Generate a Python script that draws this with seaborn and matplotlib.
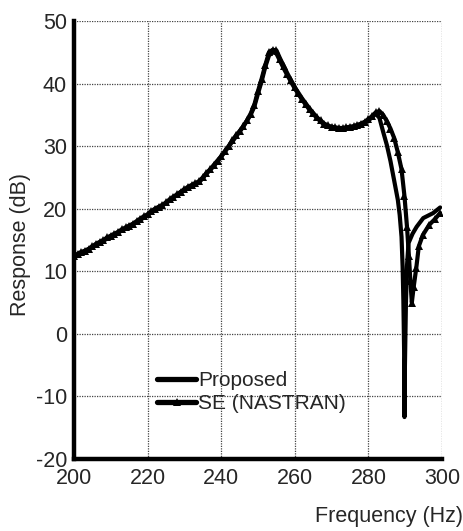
import matplotlib
matplotlib.use("Agg")
import matplotlib.pyplot as plt
import seaborn as sns
import pandas as pd

# Frequency response, proposed method
freq_proposed = [200, 202, 204, 206, 208, 210, 212, 214, 216, 218, 220, 222, 224,
                 226, 228, 230, 232, 234, 236, 238, 240, 242, 244, 246, 248, 249,
                 250, 251, 252, 253, 254, 255, 256, 257, 258, 260, 262, 264, 266,
                 268, 270, 272, 274, 276, 278, 280, 281, 282, 283, 284, 285, 286,
                 287, 288, 288.5, 289, 289.3, 289.5, 289.7, 289.8, 289.9, 290.2,
                 290.5, 290.9, 292, 293.1, 294.9, 297.6, 299.5]
resp_proposed = [12.2, 12.9, 13.5, 14.2, 14.9, 15.5, 16.2, 16.8, 17.5, 18.2, 19.0,
                 19.8, 20.5, 21.3, 22.2, 23.0, 23.6, 24.2, 25.6, 26.8, 28.3, 29.9,
                 31.5, 33.1, 35.0, 36.3, 38.4, 40.4, 42.7, 44.5, 45.0, 44.8, 43.6,
                 42.4, 41.3, 39.2, 37.4, 35.8, 34.5, 33.4, 32.9, 32.7, 32.8, 33.0,
                 33.4, 34.1, 34.6, 35.2, 34.5, 32.3, 30.2, 27.6, 24.5, 21.4, 19.0,
                 15.5, 10.7, 5.4, -2.6, -13.3, -6.0, 5.0, 11.0, 14.5, 16.0, 17.1,
                 18.5, 19.3, 20.2]

# Frequency response, superelement solution (NASTRAN)
freq_se = [200, 201, 202, 203, 204, 205, 206, 207, 208, 209, 210, 211, 212, 213,
           214, 215, 216, 217, 218, 219, 220, 221, 222, 223, 224, 225, 226, 227,
           228, 229, 230, 231, 232, 233, 234, 235, 236, 237, 238, 239, 240, 241,
           242, 243, 244, 245, 246, 247, 248, 249, 250, 251, 252, 253, 254, 255,
           256, 257, 258, 259, 260, 261, 262, 263, 264, 265, 266, 267, 268, 269,
           270, 271, 272, 273, 274, 275, 276, 277, 278, 279, 280, 281, 282, 283,
           284, 285, 286, 287, 288, 289, 289.8, 290.5, 291, 291.4, 291.8, 292.3,
           293, 293.7, 294.8, 296.5, 298, 299.5]
resp_se = [12.4, 12.8, 13.1, 13.3, 13.6, 14.0, 14.4, 14.7, 15.0, 15.4, 15.7, 16.0,
           16.3, 16.7, 17.0, 17.3, 17.6, 18.0, 18.4, 18.8, 19.1, 19.6, 20.0, 20.3,
           20.6, 21.0, 21.5, 21.9, 22.3, 22.7, 23.1, 23.5, 23.8, 24.1, 24.4, 25.0,
           25.7, 26.3, 27.0, 27.7, 28.4, 29.2, 30.0, 30.9, 31.7, 32.4, 33.2, 34.1,
           35.2, 36.6, 38.8, 40.8, 43.0, 45.0, 45.4, 45.3, 44.0, 42.8, 41.6, 40.5,
           39.4, 38.5, 37.6, 36.8, 36.0, 35.3, 34.6, 34.1, 33.6, 33.3, 33.1, 33.0,
           32.9, 32.9, 33.0, 33.1, 33.2, 33.4, 33.6, 33.9, 34.3, 34.8, 35.4, 35.6,
           35.0, 34.0, 32.8, 31.3, 29.0, 26.3, 22.0, 17.0, 12.5, 8.5, 5.0, 7.5,
           10.5, 14.0, 15.8, 17.4, 18.3, 19.3]

x_ticks = [200, 220, 240, 260, 280, 300]
y_ticks = [-20, -10, 0, 10, 20, 30, 40, 50]

sns.set_style("white")
plt.rcParams["font.family"] = ["Liberation Sans", "DejaVu Sans"]

df_p = pd.DataFrame({"f": freq_proposed, "r": resp_proposed})
df_s = pd.DataFrame({"f": freq_se, "r": resp_se})

fig = plt.figure(figsize=(4.64, 5.31), dpi=100)
ax = fig.add_axes([0.1595, 0.1356, 0.7931, 0.8249])

sns.lineplot(data=df_s, x="f", y="r", ax=ax, sort=False, estimator=None,
             color="black", linewidth=3.0, marker="^", markersize=5.5,
             markeredgewidth=0, label="SE (NASTRAN)", zorder=3)
sns.lineplot(data=df_p, x="f", y="r", ax=ax, sort=False, estimator=None,
             color="black", linewidth=3.0, label="Proposed", zorder=4)

ax.set_xlim(200, 300)
ax.set_ylim(-20, 50)
ax.set_xticks(x_ticks)
ax.set_yticks(y_ticks)
ax.set_xticklabels([str(t) for t in x_ticks])
ax.set_yticklabels([str(t) for t in y_ticks])

ax.grid(True, color="#444444", linestyle=(0, (1, 1)), linewidth=0.9)
for side in ("top", "right"):
    ax.spines[side].set_visible(False)
for side in ("left", "bottom"):
    ax.spines[side].set_color("black")
    ax.spines[side].set_linewidth(3.2)
    ax.spines[side].set_zorder(5)

ax.tick_params(axis="both", direction="out", length=3, width=2,
               labelsize=15.5, color="black", pad=2)
ax.tick_params(axis="x", pad=3.5)

ax.set_ylabel("Response (dB)", fontsize=15.5)
ax.yaxis.set_label_coords(-0.117, 0.49)
ax.set_xlabel("Frequency (Hz)", fontsize=15.5, loc="right")
ax.xaxis.set_label_coords(1.056, -0.108)
ax.xaxis.label.set_verticalalignment("top")

handles, labels = ax.get_legend_handles_labels()
order = [labels.index("Proposed"), labels.index("SE (NASTRAN)")]
leg = ax.legend([handles[i] for i in order], [labels[i] for i in order],
                loc="center left", bbox_to_anchor=(0.225, 0.153),
                frameon=False, fontsize=15, handlelength=1.9,
                handletextpad=0.1, labelspacing=0.2, borderpad=0,
                borderaxespad=0)
for line in leg.get_lines():
    line.set_linewidth(3.8)

fig.savefig("out.png", dpi=100)
